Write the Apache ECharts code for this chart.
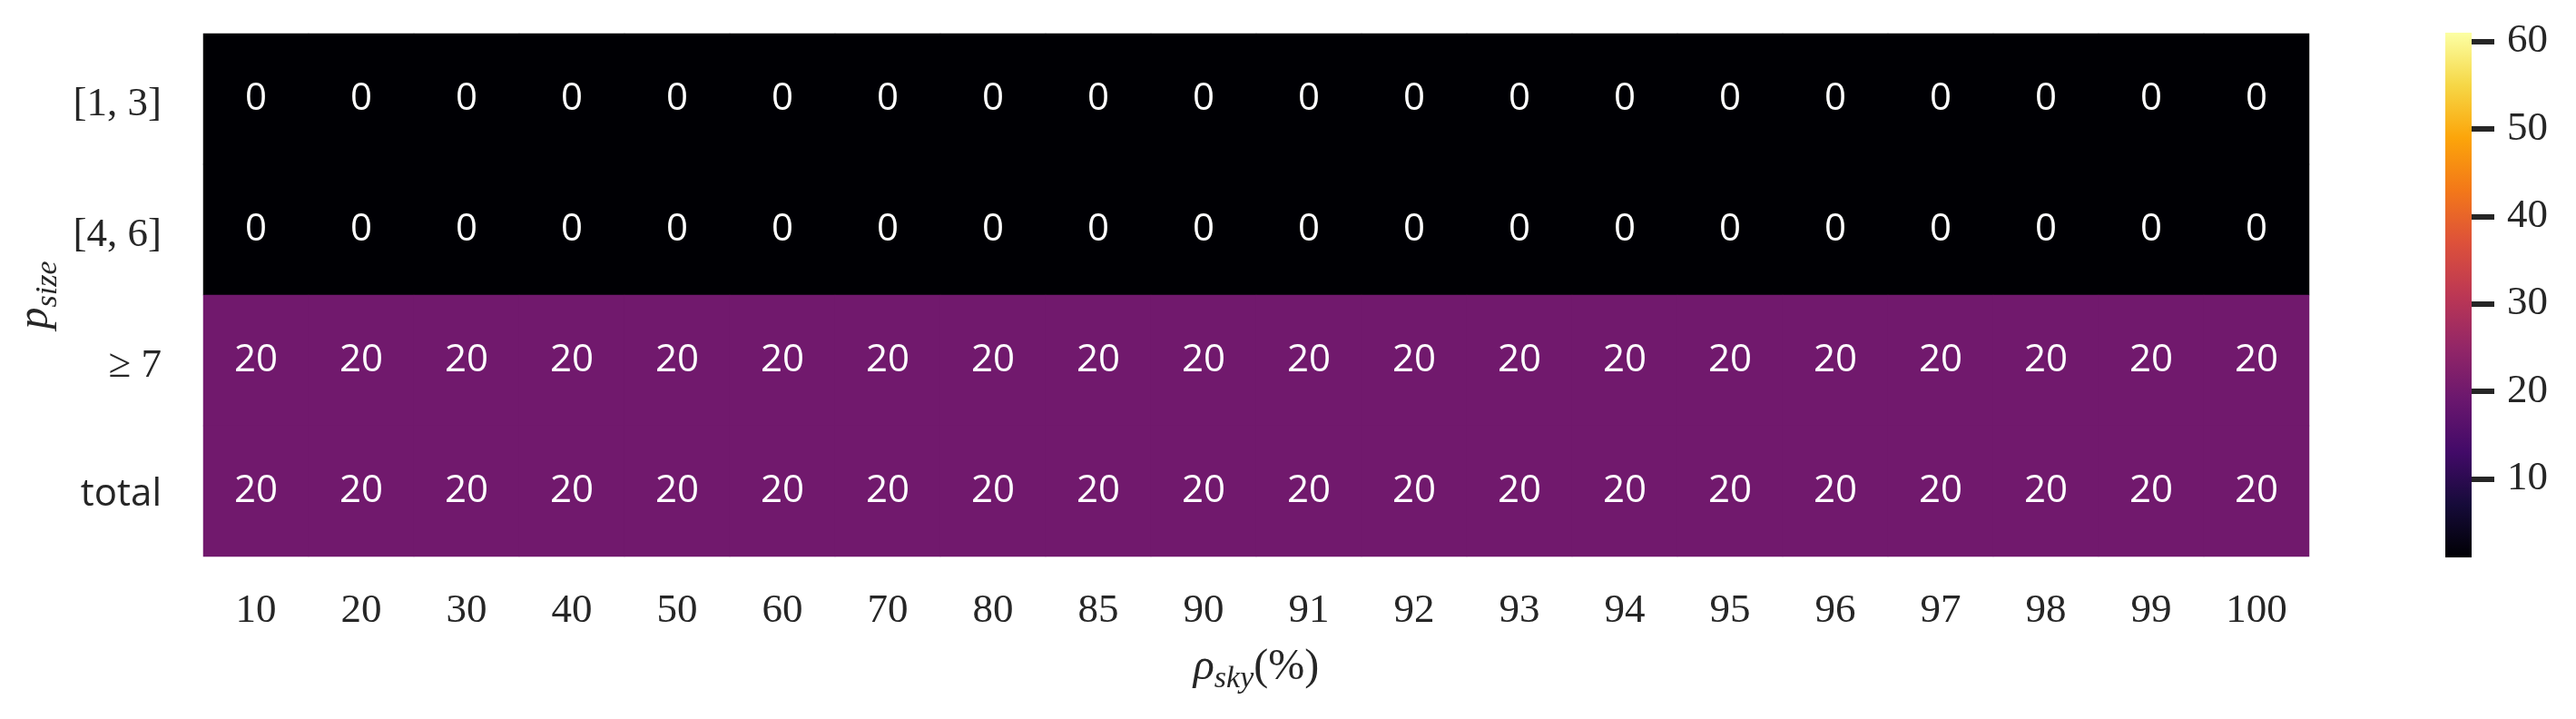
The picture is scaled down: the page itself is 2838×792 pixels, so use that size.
<!DOCTYPE html>
<html>
<head>
<meta charset="utf-8">
<script src="https://cdn.jsdelivr.net/npm/echarts@6/dist/echarts.min.js"></script>
<style>
html,body{margin:0;padding:0;background:#fff;}
#c{width:2838px;height:792px;}
</style>
</head>
<body>
<div id="c"></div>
<script>
const xLabels = ['10','20','30','40','50','60','70','80','85','90','91','92','93','94','95','96','97','98','99','100'];
const yLabels = ['[1, 3]','[4, 6]','≥ 7','total'];
const row13 = [0,0,0,0,0,0,0,0,0,0,0,0,0,0,0,0,0,0,0,0];
const row46 = [0,0,0,0,0,0,0,0,0,0,0,0,0,0,0,0,0,0,0,0];
const row7 = [20,20,20,20,20,20,20,20,20,20,20,20,20,20,20,20,20,20,20,20];
const rowTotal = [20,20,20,20,20,20,20,20,20,20,20,20,20,20,20,20,20,20,20,20];
const cbRange = [1, 61];
const cbTicks = [10, 20, 30, 40, 50, 60];

const inferno = ['#000004','#160b39','#420a68','#6a176e','#932667','#bc3754','#dd513a','#f37819','#fca50a','#f6d746','#fcffa4'];

const rows = [row13, row46, row7, rowTotal];
const heatData = [];
rows.forEach((r, yi) => r.forEach((v, xi) => heatData.push([xi, yi, v])));

const TXT = '#262626';
const SERIF = '"Liberation Serif", "DejaVu Serif", serif';
const SANS = '"Open Sans", "DejaVu Sans", sans-serif';

const chart = echarts.init(document.getElementById('c'), null, {renderer: 'canvas'});
chart.setOption({
  backgroundColor: '#ffffff',
  animation: false,
  grid: [
    {left: 224, top: 37, width: 2320, height: 576},
    {left: 2694, top: 36, width: 29, height: 578}
  ],
  xAxis: [
    {
      type: 'category', gridIndex: 0, data: xLabels,
      axisLine: {show: false}, axisTick: {show: false}, splitLine: {show: false},
      axisLabel: {color: TXT, fontFamily: SERIF, fontSize: 45, margin: 38},
      name: '{a|ρ}{b|sky}{c|(%)}',
      nameLocation: 'middle', nameGap: 92,
      nameTextStyle: {
        rich: {
          a: {fontFamily: SERIF, fontStyle: 'italic', fontSize: 48, lineHeight: 60, color: TXT},
          b: {fontFamily: SERIF, fontStyle: 'italic', fontSize: 34, lineHeight: 28, verticalAlign: 'bottom', color: TXT},
          c: {fontFamily: SERIF, fontSize: 48, lineHeight: 60, color: TXT}
        }
      }
    },
    {
      type: 'category', gridIndex: 1, data: ['cb'], show: false
    }
  ],
  yAxis: [
    {
      type: 'category', gridIndex: 0, data: yLabels, inverse: true,
      axisLine: {show: false}, axisTick: {show: false}, splitLine: {show: false},
      axisLabel: {
        margin: 46,
        formatter: function (v) { return v === 'total' ? '{s|' + v + '}' : '{m|' + v + '}'; },
        rich: {
          m: {fontFamily: SERIF, fontSize: 45, color: TXT, padding: [12, 0, 0, 0]},
          s: {fontFamily: SANS, fontSize: 42, color: TXT, padding: [8, 0, 0, 0]}
        }
      },
      name: '{a|p}{b|size}',
      nameLocation: 'middle', nameGap: 150, nameRotate: 90,
      nameTextStyle: {
        rich: {
          a: {fontFamily: SERIF, fontStyle: 'italic', fontSize: 48, lineHeight: 60, color: TXT},
          b: {fontFamily: SERIF, fontStyle: 'italic', fontSize: 34, lineHeight: 28, verticalAlign: 'bottom', color: TXT}
        }
      }
    },
    {
      type: 'value', gridIndex: 1, position: 'right',
      min: cbRange[0], max: cbRange[1],
      axisLine: {show: false},
      splitLine: {show: false},
      axisTick: {show: true, length: 25, lineStyle: {color: TXT, width: 6}, customValues: cbTicks},
      axisLabel: {color: TXT, fontFamily: SERIF, fontSize: 45, margin: 39, customValues: cbTicks}
    }
  ],
  visualMap: {
    show: false, type: 'continuous', seriesIndex: 0,
    min: cbRange[0], max: cbRange[1],
    inRange: {color: inferno}
  },
  series: [
    {
      type: 'heatmap', xAxisIndex: 0, yAxisIndex: 0, data: heatData,
      label: {show: true, color: '#ffffff', fontFamily: SANS, fontSize: 42},
      itemStyle: {borderWidth: 0},
      emphasis: {disabled: true}
    },
    {
      type: 'custom', xAxisIndex: 1, yAxisIndex: 1,
      data: [[0, cbRange[0], cbRange[1]]],
      renderItem: function (params, api) {
        const p0 = api.coord([api.value(0), api.value(1)]);
        const p1 = api.coord([api.value(0), api.value(2)]);
        const w = api.size([1, 0])[0];
        const stops = inferno.map((c, i) => ({offset: 1 - i / (inferno.length - 1), color: c})).reverse();
        return {
          type: 'rect',
          shape: {x: p0[0] - w / 2, y: p1[1], width: w, height: p0[1] - p1[1]},
          style: {fill: new echarts.graphic.LinearGradient(0, 0, 0, 1, stops)}
        };
      }
    }
  ]
});
</script>
</body>
</html>
